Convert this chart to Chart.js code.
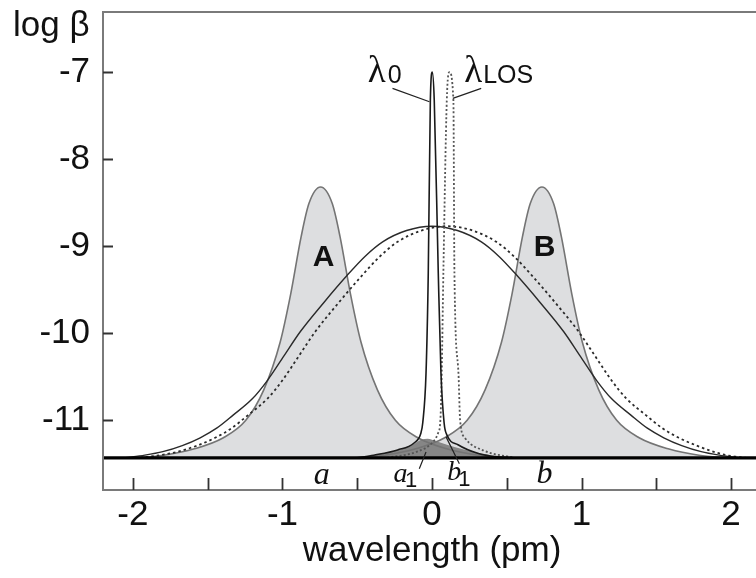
<!DOCTYPE html>
<html>
<head>
<meta charset="utf-8">
<script src="https://cdn.jsdelivr.net/npm/chart.js@4.4.0/dist/chart.umd.min.js"></script>
<style>
  html, body { margin: 0; padding: 0; background: #fff; overflow: hidden; }
  #wrap { width: 770px; height: 578px; }
</style>
</head>
<body>
<div id="wrap"><canvas id="chart" width="770" height="578"></canvas></div>
<script>
// axis ticks
const xTicks = [-2, -1.5, -1, -0.5, 0, 0.5, 1, 1.5, 2];
const xTickLabels = ['-2', '', '-1', '', '0', '', '1', '', '2'];
const yTicks = [-11, -10, -9, -8, -7];
const baselineLevel = -11.43;

// broad gray peaks A and B (log beta vs wavelength, pm)
const peakAx = [-1.995, -1.795, -1.595, -1.395, -1.245, -1.125, -1.015, -0.945, -0.875, -0.823, -0.745, -0.667, -0.615, -0.545, -0.475, -0.365, -0.245, -0.095, 0.105, 0.305, 0.505];
const peakAy = [-11.43, -11.40, -11.33, -11.20, -11.00, -10.65, -10.10, -9.55, -8.89, -8.51, -8.32, -8.51, -8.89, -9.55, -10.10, -10.65, -11.00, -11.20, -11.33, -11.40, -11.43];
const peakBx = [-0.515, -0.315, -0.115, 0.085, 0.235, 0.355, 0.465, 0.535, 0.605, 0.657, 0.735, 0.813, 0.865, 0.935, 1.005, 1.115, 1.235, 1.385, 1.585, 1.785, 1.985];
const peakBy = [-11.43, -11.40, -11.33, -11.20, -11.00, -10.65, -10.10, -9.55, -8.89, -8.51, -8.32, -8.51, -8.89, -9.55, -10.10, -10.65, -11.00, -11.20, -11.33, -11.40, -11.43];

// wide curves: solid and dashed
const wideX = [-2.05, -1.92, -1.8, -1.67, -1.55, -1.44, -1.33, -1.2, -1.1, -0.99, -0.88, -0.72, -0.57, -0.45, -0.33, -0.17, 0, 0.17, 0.33, 0.45, 0.57, 0.72, 0.88, 0.99, 1.1, 1.2, 1.33, 1.44, 1.55, 1.67, 1.8, 1.92, 2.05];
const wideY = [-11.43, -11.40, -11.36, -11.29, -11.20, -11.09, -10.94, -10.75, -10.54, -10.26, -9.98, -9.64, -9.34, -9.12, -8.95, -8.82, -8.77, -8.82, -8.95, -9.12, -9.34, -9.64, -9.98, -10.26, -10.54, -10.75, -10.94, -11.09, -11.20, -11.29, -11.36, -11.40, -11.43];
const wideDashX = [-1.95, -1.82, -1.7, -1.57, -1.45, -1.34, -1.23, -1.1, -1.0, -0.89, -0.78, -0.62, -0.47, -0.35, -0.23, -0.07, 0.1, 0.27, 0.43, 0.55, 0.67, 0.82, 0.98, 1.09, 1.2, 1.3, 1.43, 1.54, 1.65, 1.77, 1.9, 2.0, 2.1];
const wideDashY = [-11.43, -11.40, -11.36, -11.29, -11.20, -11.09, -10.94, -10.75, -10.54, -10.26, -9.98, -9.64, -9.34, -9.12, -8.95, -8.82, -8.77, -8.82, -8.95, -9.12, -9.34, -9.64, -9.98, -10.26, -10.54, -10.75, -10.94, -11.09, -11.20, -11.29, -11.37, -11.41, -11.43];

// narrow lines lambda0 (solid) and lambdaLOS (dotted)
const lam0X = [-0.5, -0.39, -0.23, -0.12, -0.075, -0.062, -0.04, -0.025, -0.011, 0.002, 0.015, 0.042, 0.06, 0.081, 0.1, 0.174, 0.31, 0.44, 0.55];
const lam0Y = [-11.43, -11.40, -11.34, -11.26, -11.15, -11.03, -10.46, -9.31, -7.32, -7.0, -7.32, -9.31, -10.46, -11.03, -11.17, -11.28, -11.38, -11.42, -11.43];
const losX = [-0.3, -0.1, 0.0, 0.04, 0.056, 0.065, 0.076, 0.099, 0.116, 0.143, 0.15, 0.177, 0.188, 0.22, 0.35, 0.55];
const losY = [-11.43, -11.36, -11.26, -11.15, -11.0, -10.46, -9.31, -7.32, -7.0, -7.32, -9.31, -10.46, -11.0, -11.2, -11.35, -11.43];

// dark overlap region (a1, b1)
const overlapX = [-0.48, -0.39, -0.3, -0.2, -0.12, -0.07, -0.03, 0.03, 0.1, 0.2, 0.3, 0.42, 0.52];
const overlapY = [-11.43, -11.40, -11.37, -11.33, -11.27, -11.22, -11.21, -11.24, -11.28, -11.33, -11.37, -11.41, -11.43];

const pts = (xs, ys) => xs.map((x, i) => ({ x, y: ys[i] }));

const sans = '"Liberation Sans", Arial, Helvetica, sans-serif';
const serif = '"Liberation Serif", "Times New Roman", serif';

// text annotations placed in data coordinates
const annotations = [
  { text: 'A', x: -0.725, y: -9.13, font: 'bold 30px ' + sans, align: 'center', base: 'middle' },
  { text: 'B', x: 0.752, y: -9.02, font: 'bold 30px ' + sans, align: 'center', base: 'middle' },
  { text: 'λ', x: -0.369, y: -7.115, font: '37px ' + serif, align: 'center', base: 'alphabetic' },
  { text: '0', x: -0.25, y: -7.126, font: '25px ' + sans, align: 'center', base: 'alphabetic' },
  { text: 'λ', x: 0.275, y: -7.115, font: '37px ' + serif, align: 'center', base: 'alphabetic' },
  { text: 'LOS', x: 0.342, y: -7.126, font: '25px ' + sans, align: 'left', base: 'alphabetic' },
  { text: 'a', x: -0.738, y: -11.64, font: 'italic 32px ' + serif, align: 'center', base: 'middle' },
  { text: 'a', x: -0.21, y: -11.62, font: 'italic 28px ' + serif, align: 'center', base: 'middle' },
  { text: '1', x: -0.14, y: -11.7, font: '22px ' + sans, align: 'center', base: 'middle' },
  { text: 'b', x: 0.148, y: -11.6, font: 'italic 28px ' + serif, align: 'center', base: 'middle' },
  { text: '1', x: 0.216, y: -11.68, font: '22px ' + sans, align: 'center', base: 'middle' },
  { text: 'b', x: 0.752, y: -11.62, font: 'italic 32px ' + serif, align: 'center', base: 'middle' }
];
const leaders = [
  [-0.264, -7.187, -0.017, -7.341],
  [0.329, -7.187, 0.139, -7.302],
  [-0.085, -11.555, -0.04, -11.364],
  [0.183, -11.498, 0.094, -11.19]
];

const framePlugin = {
  id: 'framePlugin',
  afterDraw(chart) {
    const { ctx, chartArea: a, scales: { x, y } } = chart;
    ctx.save();
    ctx.strokeStyle = '#7a7a7a';
    ctx.lineWidth = 2;
    ctx.strokeRect(a.left, a.top, a.right - a.left, a.bottom - a.top);
    ctx.lineWidth = 1.8;
    ctx.strokeStyle = '#333';
    ctx.beginPath();
    yTicks.forEach(v => {
      const py = Math.round(y.getPixelForValue(v)) + 0.5;
      ctx.moveTo(a.left, py); ctx.lineTo(a.left + 10, py);
    });
    xTicks.forEach(v => {
      const px = Math.round(x.getPixelForValue(v)) + 0.5;
      ctx.moveTo(px, a.bottom); ctx.lineTo(px, a.bottom - 12);
    });
    ctx.stroke();

    ctx.strokeStyle = '#222';
    ctx.lineWidth = 1.2;
    ctx.beginPath();
    leaders.forEach(l => {
      ctx.moveTo(x.getPixelForValue(l[0]), y.getPixelForValue(l[1]));
      ctx.lineTo(x.getPixelForValue(l[2]), y.getPixelForValue(l[3]));
    });
    ctx.stroke();

    ctx.fillStyle = '#111';
    annotations.forEach(t => {
      ctx.font = t.font;
      ctx.textAlign = t.align;
      ctx.textBaseline = t.base;
      ctx.fillText(t.text, x.getPixelForValue(t.x), y.getPixelForValue(t.y));
    });

    ctx.font = '35px ' + sans;
    ctx.textAlign = 'left';
    ctx.textBaseline = 'alphabetic';
    ctx.fillText('log β', 13, 36);
    ctx.restore();
  }
};

const line = (data, color, width, extra) => Object.assign({
  data, borderColor: color, borderWidth: width, pointRadius: 0,
  fill: false, cubicInterpolationMode: 'monotone'
}, extra || {});

new Chart(document.getElementById('chart'), {
  type: 'line',
  data: {
    datasets: [
      line(pts([-2.2, 2.2], [baselineLevel, baselineLevel]), '#000', 3.2, { order: 0, cubicInterpolationMode: 'default' }),
      line(pts(lam0X, lam0Y), '#1a1a1a', 1.6, { order: 1 }),
      line(pts(losX, losY), '#555', 1.8, { order: 2, borderDash: [2, 2.2] }),
      line(pts(wideX, wideY), '#2a2a2a', 1.4, { order: 3 }),
      line(pts(wideDashX, wideDashY), '#2a2a2a', 1.8, { order: 4, borderDash: [2.5, 3] }),
      line(pts(overlapX, overlapY), 'rgba(0,0,0,0)', 0, { order: 5, fill: { value: baselineLevel }, backgroundColor: '#868686' }),
      line(pts(peakAx, peakAy), '#747474', 1.6, { order: 6, fill: { value: baselineLevel }, backgroundColor: '#dddee0' }),
      line(pts(peakBx, peakBy), '#747474', 1.6, { order: 7, fill: { value: baselineLevel }, backgroundColor: '#dddee0' })
    ]
  },
  options: {
    responsive: false,
    animation: false,
    layout: { padding: { top: 12, right: 9, left: 0, bottom: 0 } },
    plugins: {
      legend: { display: false },
      tooltip: { enabled: false },
      filler: { drawTime: 'beforeDatasetsDraw' }
    },
    scales: {
      x: {
        type: 'linear', min: -2.2, max: 2.2,
        grid: { display: false, drawTicks: false },
        border: { display: false },
        afterBuildTicks: s => { s.ticks = xTicks.map(v => ({ value: v })); },
        afterFit: s => { s.height = 88; s.paddingLeft = 0; s.paddingRight = 0; },
        ticks: {
          autoSkip: false, maxRotation: 0, padding: 4,
          color: '#111', font: { family: sans, size: 35 },
          callback: (v, i) => xTickLabels[i]
        },
        title: {
          display: true, text: 'wavelength (pm)', color: '#111',
          font: { family: sans, size: 35 }, padding: { top: 0, bottom: 6 }
        }
      },
      y: {
        type: 'linear', min: -11.8, max: -6.31,
        grid: { display: false, drawTicks: false },
        border: { display: false },
        afterBuildTicks: s => { s.ticks = yTicks.map(v => ({ value: v })); },
        afterFit: s => { s.width = 103; s.paddingTop = 0; s.paddingBottom = 0; },
        ticks: {
          padding: 13, color: '#111', font: { family: sans, size: 35 },
          callback: v => String(v)
        }
      }
    }
  },
  plugins: [framePlugin]
});
</script>
</body>
</html>
